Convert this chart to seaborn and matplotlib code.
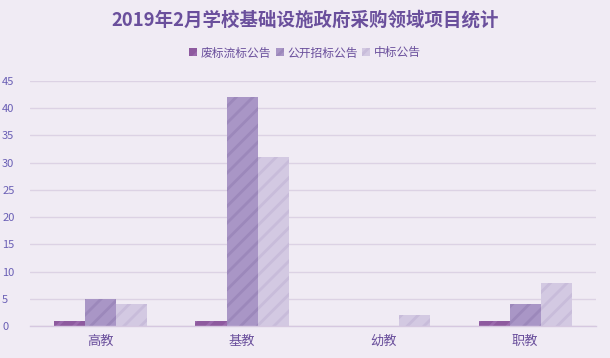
import matplotlib
matplotlib.use("Agg")
import matplotlib.pyplot as plt
import seaborn as sns
import pandas as pd
from matplotlib.patches import Patch

categories = ["高教", "基教", "幼教", "职教"]
series_names = ["废标流标公告", "公开招标公告", "中标公告"]
s_fei = [1, 1, 0, 1]
s_gongkai = [5, 42, 0, 4]
s_zhongbiao = [4, 31, 2, 8]
yticks = [0, 5, 10, 15, 20, 25, 30, 35, 40, 45]

colors = ["#8e5a9f", "#a996c6", "#d3c9e2"]
hatch_colors = ["#9b6aad", "#9c88bb", "#c8bcda"]

rows = []
for name, vals in zip(series_names, [s_fei, s_gongkai, s_zhongbiao]):
    for c, v in zip(categories, vals):
        rows.append({"cat": c, "series": name, "value": v})
df = pd.DataFrame(rows)

sns.set_theme(style="white")
plt.rcParams["font.family"] = ["Noto Sans CJK SC", "DejaVu Sans"]
plt.rcParams["hatch.linewidth"] = 2.0

bg = "#f0ebf4"
fig = plt.figure(figsize=(6.1, 3.58), dpi=100, facecolor=bg)
ax = fig.add_axes([0.049, 0.089, 0.928, 0.685], facecolor=bg)

sns.barplot(data=df, x="cat", y="value", hue="series", order=categories,
            hue_order=series_names, palette=colors, width=0.66,
            saturation=1, ax=ax, legend=False, errorbar=None)

n = len(categories)
for i, patch in enumerate(ax.patches[: n * len(series_names)]):
    s = i // n
    patch.set_hatch("//")
    patch.set_edgecolor(hatch_colors[s])
    patch.set_linewidth(0)

ax.set_ylim(0, 45)
ax.set_xlim(-0.5, 3.5)
ax.set_yticks(yticks)
ax.yaxis.grid(True, color="#dcd2e4", linewidth=1)
ax.set_axisbelow(True)
for sp in ["top", "right", "left"]:
    ax.spines[sp].set_visible(False)
ax.spines["bottom"].set_color("#d6c8e0")
ax.spines["bottom"].set_linewidth(1)
ax.set_xlabel("")
ax.set_ylabel("")
ax.tick_params(axis="y", length=0, labelsize=8, labelcolor="#6a5fb5")
ax.tick_params(axis="x", length=0, labelsize=9.5, labelcolor="#6a4f9c", pad=6)
for lab in ax.get_yticklabels():
    lab.set_horizontalalignment("left")
ax.yaxis.set_tick_params(pad=20)

fig.text(0.5, 0.945, "2019年2月学校基础设施政府采购领域项目统计", ha="center", va="center",
         fontsize=13.3, fontweight="bold", color="#6a4f9c")

handles = [Patch(facecolor=colors[k], edgecolor=hatch_colors[k], hatch="//", linewidth=0)
           for k in range(3)]
fig.legend(handles, series_names, loc="center", bbox_to_anchor=(0.5, 0.852), ncol=3,
           frameon=False, fontsize=8.5, handlelength=0.7, handleheight=0.7,
           handletextpad=0.3, columnspacing=0.35, labelcolor="#6a4f9c")

fig.savefig("out.png", dpi=100, facecolor=bg)
